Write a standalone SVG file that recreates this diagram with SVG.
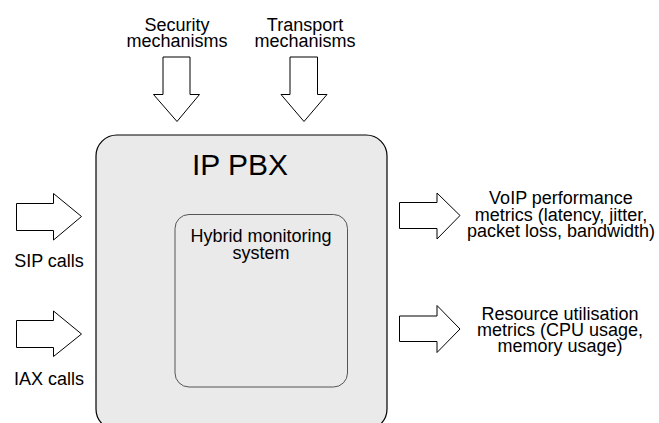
<svg xmlns="http://www.w3.org/2000/svg" width="659" height="423" viewBox="0 0 659 423">
<style>
.t{font-family:"Liberation Sans",Arial,sans-serif;font-size:18px;fill:#000;text-anchor:middle}
.arrow{fill:#fff;stroke:#000;stroke-width:1}
</style>
<rect width="659" height="423" fill="#fff"/>
<g id="ip-pbx">
<rect x="96" y="135" width="291" height="295" rx="21" ry="21" fill="#eaeaea" stroke="#000" stroke-width="1.2"/>
<text class="t" x="240" y="175" style="font-size:30px">IP PBX</text>
</g>
<g id="hybrid-monitoring">
<rect x="175" y="214.5" width="172.5" height="172.5" rx="14" ry="14" fill="#eaeaea" stroke="#555" stroke-width="1"/>
<text class="t" x="261" y="242">Hybrid monitoring</text>
<text class="t" x="261" y="259">system</text>
</g>
<g id="connectors">
<polygon id="arrow-security" class="arrow" points="163,57 190,57 190,94.5 199.5,94.5 177,121.5 153.5,94.5 163,94.5"/>
<polygon id="arrow-transport" class="arrow" points="290,57 317.5,57 317.5,94.5 327,94.5 304,121.5 281,94.5 290,94.5"/>
<polygon id="arrow-sip" class="arrow" points="16.5,203.5 53.5,203.5 53.5,193.5 81.5,216.5 53.5,240 53.5,230.5 16.5,230.5"/>
<polygon id="arrow-iax" class="arrow" points="16.5,320.5 53.5,320.5 53.5,311 81.5,334 53.5,356.5 53.5,347.5 16.5,347.5"/>
<polygon id="arrow-voip" class="arrow" points="399.5,202.5 437,202.5 437,193 460,215.5 437,239 437,228.5 399.5,228.5"/>
<polygon id="arrow-resource" class="arrow" points="399.5,316 437,316 437,305.5 460,329 437,352.5 437,341.5 399.5,341.5"/>
</g>
<g id="label-security">
<text class="t" x="177" y="31">Security</text>
<text class="t" x="177" y="47">mechanisms</text>
</g>
<g id="label-transport">
<text class="t" x="305" y="31">Transport</text>
<text class="t" x="305" y="47">mechanisms</text>
</g>
<g id="label-sip">
<text class="t" x="49" y="267">SIP calls</text>
</g>
<g id="label-iax">
<text class="t" x="49" y="385">IAX calls</text>
</g>
<g id="label-voip">
<text class="t" x="561" y="204">VoIP performance</text>
<text class="t" x="561" y="220.5">metrics (latency, jitter,</text>
<text class="t" x="561" y="237">packet loss, bandwidth)</text>
</g>
<g id="label-resource">
<text class="t" x="560" y="320">Resource utilisation</text>
<text class="t" x="560" y="336">metrics (CPU usage,</text>
<text class="t" x="560" y="352">memory usage)</text>
</g>
</svg>
